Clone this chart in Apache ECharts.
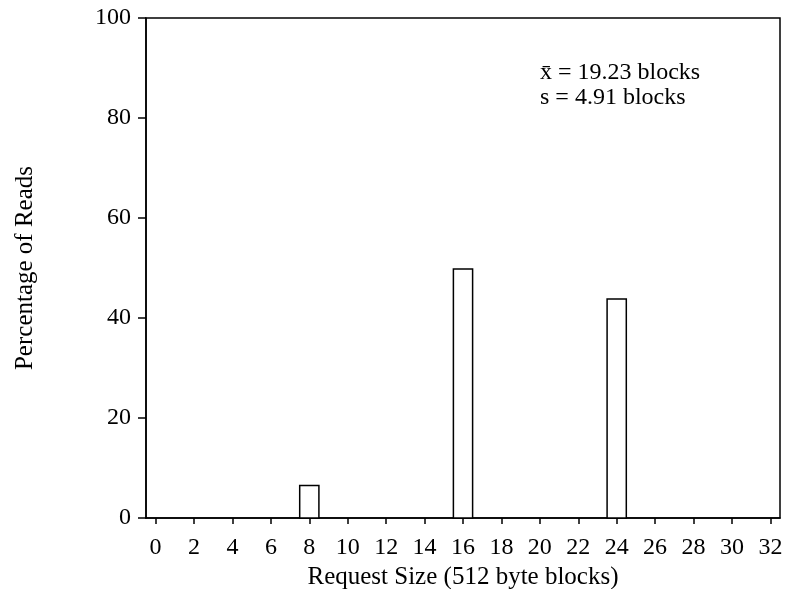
<!DOCTYPE html>
<html>
<head>
<meta charset="utf-8">
<script src="https://cdn.jsdelivr.net/npm/echarts@6/dist/echarts.min.js"></script>
<style>
  html, body { margin: 0; padding: 0; background: #fff; }
  #chart { width: 786px; height: 589px; }
</style>
</head>
<body>
<div id="chart"></div>
<script>
// Request sizes (in 512-byte blocks) and their share of reads
const requestSizes = [8, 16, 24];
const readPercents = [6.5, 49.8, 43.8];

// Axis tick labels
const xTickValues = [0, 2, 4, 6, 8, 10, 12, 14, 16, 18, 20, 22, 24, 26, 28, 30, 32];
const yTickValues = [0, 20, 40, 60, 80, 100];

// Summary statistics shown in the corner
const statLines = ['x\u0304 = 19.23 blocks', 's = 4.91 blocks'];

const FONT = '"Liberation Serif", "DejaVu Serif", serif';

const chart = echarts.init(document.getElementById('chart'), null, { renderer: 'canvas' });

const barData = requestSizes.map((s, i) => [s, readPercents[i]]);

chart.setOption({
  animation: false,
  backgroundColor: '#fff',
  grid: {
    left: 146, right: 6, top: 18, bottom: 71,
    outerBoundsMode: 'none',
    containLabel: false,
    show: true, borderColor: '#000', borderWidth: 1.5, backgroundColor: 'transparent'
  },
  xAxis: {
    type: 'value',
    min: -0.5, max: 32.5,
    name: 'Request Size (512 byte blocks)',
    nameLocation: 'middle',
    nameGap: 46,
    nameTextStyle: { fontFamily: FONT, fontSize: 25, color: '#000' },
    axisLine: { show: true, onZero: false, lineStyle: { color: '#000', width: 1.5 } },
    axisTick: { show: true, length: 6, inside: false, customValues: xTickValues, lineStyle: { color: '#000', width: 1.5 } },
    axisLabel: { customValues: xTickValues, margin: 18, fontFamily: FONT, fontSize: 24, color: '#000' },
    splitLine: { show: false }
  },
  yAxis: {
    type: 'value',
    min: 0, max: 100, interval: 20,
    name: 'Percentage of Reads',
    nameLocation: 'middle',
    nameGap: 108,
    nameTextStyle: { fontFamily: FONT, fontSize: 25, color: '#000' },
    axisLine: { show: true, onZero: false, lineStyle: { color: '#000', width: 1.5 } },
    axisTick: { show: true, length: 8, inside: false, lineStyle: { color: '#000', width: 1.5 } },
    axisLabel: { customValues: yTickValues, margin: 15, padding: [4, 0, 0, 0], fontFamily: FONT, fontSize: 24, color: '#000' },
    splitLine: { show: false }
  },
  series: [{
    type: 'custom',
    data: barData,
    renderItem: function (params, api) {
      const x = api.value(0);
      const y = api.value(1);
      const p0 = api.coord([x - 0.5, 0]);
      const p1 = api.coord([x + 0.5, y]);
      return {
        type: 'rect',
        shape: { x: p0[0], y: p1[1], width: p1[0] - p0[0], height: p0[1] - p1[1] },
        style: { fill: '#fff', stroke: '#000', lineWidth: 1.5 }
      };
    }
  }],
  graphic: statLines.map((t, i) => ({
    type: 'text',
    left: 540,
    top: 61 + i * 25,
    style: { text: t, fontFamily: FONT, fontSize: 24, fill: '#000' }
  }))
});
</script>
</body>
</html>
